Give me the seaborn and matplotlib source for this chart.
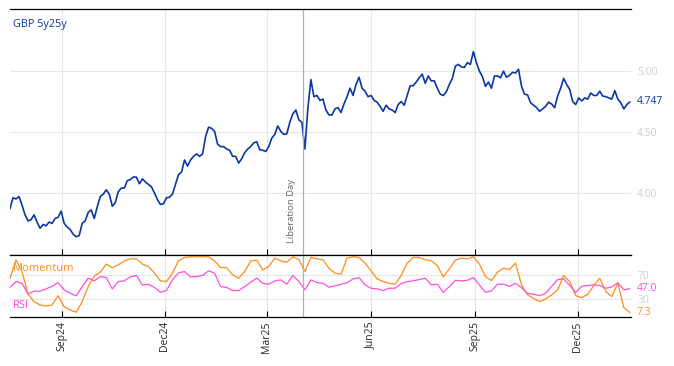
import pandas as pd
import seaborn as sns
import matplotlib.pyplot as plt
import matplotlib.dates as mdates

# GBP 5y25y (one value about every 2-3 days)
rate = [3.87, 3.96, 3.95, 3.97, 3.90, 3.82, 3.77, 3.78, 3.82, 3.76,
        3.71, 3.74, 3.73, 3.76, 3.75, 3.79, 3.80, 3.85, 3.75, 3.72,
        3.70, 3.66, 3.64, 3.65, 3.75, 3.77, 3.84, 3.86, 3.79, 3.885,
        3.97, 3.99, 4.025, 3.99, 3.89, 3.92, 4.01, 4.04, 4.04, 4.10,
        4.11, 4.13, 4.13, 4.075, 4.115, 4.09, 4.07, 4.05, 4.00, 3.945,
        3.905, 3.91, 3.96,
        3.964, 3.99, 4.07, 4.15, 4.17, 4.27, 4.22, 4.27, 4.30, 4.32,
        4.30, 4.32, 4.46, 4.54, 4.53, 4.505, 4.40, 4.38, 4.38, 4.36,
        4.35, 4.30, 4.30, 4.245, 4.28, 4.33, 4.36, 4.38, 4.41, 4.42,
        4.355, 4.35, 4.34, 4.38, 4.45, 4.48, 4.55, 4.505, 4.48, 4.485,
        4.58, 4.65, 4.68, 4.60, 4.58, 4.36,
        4.695, 4.93, 4.79, 4.80, 4.76, 4.77, 4.68, 4.64, 4.64, 4.69,
        4.70, 4.66, 4.73, 4.79, 4.86, 4.80, 4.89, 4.95, 4.86, 4.835,
        4.79, 4.80, 4.76, 4.745, 4.71, 4.67, 4.72, 4.69, 4.68, 4.66,
        4.725, 4.75, 4.72, 4.80, 4.88, 4.88, 4.91, 4.945, 4.975, 4.90,
        4.96, 4.92, 4.92, 4.86, 4.81, 4.80, 4.83, 4.89, 4.94, 5.04,
        5.055, 5.035, 5.03, 5.07,
        5.055, 5.16, 5.07, 5.00, 4.955, 4.875, 4.91, 4.86, 4.96, 4.96,
        4.945, 5.00, 4.95, 4.965, 4.99, 4.985, 5.015, 4.875, 4.81, 4.805,
        4.74, 4.72, 4.70, 4.67, 4.69, 4.71, 4.745, 4.73, 4.70, 4.795,
        4.86, 4.94, 4.89, 4.85, 4.75, 4.725, 4.78, 4.755, 4.78, 4.77,
        4.82, 4.80, 4.80, 4.835, 4.795, 4.79, 4.78, 4.77, 4.84, 4.77,
        4.74, 4.69, 4.725, 4.747]

# oscillators, one value about every 5 days
momentum = [64, 95, 75.5, 38, 25.5, 20, 18.3, 20, 35.5, 17,
            11.7, 7.8, 25.5, 50.5, 68, 74.5, 88, 82, 86.7, 93,
            96.7, 96.7, 88, 84, 73, 60, 59,
            72.8, 93.3, 98.9, 100, 100, 100, 100, 93, 82, 82,
            70, 64.5, 75.5, 93, 94.5, 78, 84, 98, 93, 91,
            100, 95.5, 75.5, 99, 96.7, 95,
            81, 72.8, 71, 97.8, 100, 98.9, 89.5, 76.7, 63.3, 59,
            56, 54.5, 69, 89.5, 98.9, 98.9, 95, 93.3, 85.5, 66.7,
            80, 94.5, 97.8, 96.7, 100, 87.8,
            67.2, 60.5, 74.4, 81, 79, 89.5, 53.3, 36.7, 31, 25.5,
            30, 36.7, 45, 69, 59, 35.5, 32.2, 37.8, 52.2, 64.5,
            42.2, 34, 56, 15.6, 7.3]
rsi = [49, 59, 56, 38, 43, 43, 46.7, 51, 57, 45,
       39.5, 35, 50.5, 64.5, 60, 67, 65.5, 46.7, 59, 60,
       66.7, 69, 53, 54.5, 49, 41, 44,
       61.7, 73.3, 75.5, 66.7, 67.2, 69, 76.7, 72.8, 50.5, 49,
       44, 44, 50.5, 57.8, 64.5, 56, 54.5, 60, 61.7, 54.5,
       69, 59, 45, 61.7, 57.2, 56,
       49.4, 51.7, 54.5, 56.7, 63.3, 65.5, 53.3, 47.8, 46.7, 44,
       47.8, 47.8, 55.5, 58.9, 60, 62.2, 64.5, 53.3, 54.5, 41,
       50.5, 61, 60, 61, 65.5, 53.3,
       41, 43.3, 54.5, 54.5, 51, 56, 48.9, 38.9, 37.8, 35.5,
       39.5, 51, 62.2, 63.3, 52.2, 41, 51, 52.2, 53.3, 52.2,
       47.8, 50, 56.7, 45, 47.0]

top_ticks = [4.0, 4.5, 5.0]
osc_ticks = [30, 70]
lib_day = pd.Timestamp('2025-04-02')

start, end = pd.Timestamp('2024-07-17'), pd.Timestamp('2026-01-16')
rate_dates = pd.date_range(start, end, periods=len(rate))
osc_dates = pd.date_range(start, end, periods=len(momentum))

blue = '#0a37a3'
orange = '#ff8c1a'
pink = '#ff4fdc'
grid = '#e6e6e6'
light = '#cfcfcf'

sns.set_style('white')
plt.rcParams['font.family'] = ['Open Sans', 'DejaVu Sans']

fig = plt.figure(figsize=(6.74, 3.66), dpi=100)
ax1 = fig.add_axes([0.0148, 0.3033, 0.9214, 0.6721])
ax2 = fig.add_axes([0.0148, 0.1339, 0.9214, 0.1694], sharex=ax1)

sns.lineplot(x=rate_dates, y=rate, ax=ax1, color=blue, lw=1.2)
sns.lineplot(x=osc_dates, y=momentum, ax=ax2, color=orange, lw=0.9)
sns.lineplot(x=osc_dates, y=rsi, ax=ax2, color=pink, lw=0.9)

ax1.set_xlim(start, pd.Timestamp('2026-01-17'))
ax1.set_ylim(3.49, 5.51)
ax2.set_ylim(0, 103)
ax1.set_yticks(top_ticks)
ax1.set_yticklabels([f'{t:.2f}' for t in top_ticks])
ax2.set_yticks(osc_ticks)

ax1.xaxis.set_major_locator(mdates.MonthLocator(bymonth=[3, 6, 9, 12]))
ax1.xaxis.set_major_formatter(mdates.DateFormatter('%b%y'))

for ax in (ax1, ax2):
    ax.grid(True, color=grid, lw=0.8)
    ax.set_axisbelow(True)
    ax.yaxis.tick_right()
    ax.tick_params(axis='y', length=0, pad=4.5, labelsize=7.5, labelcolor=light)
    ax.tick_params(axis='x', direction='in', length=4.5, width=0.8, color='black',
                   bottom=True, labelsize=7.5)
    for side in ('left', 'right'):
        ax.spines[side].set_visible(False)
    for side in ('top', 'bottom'):
        ax.spines[side].set_color('black')
        ax.spines[side].set_linewidth(0.9)
    ax.axvline(lib_day, color='#b0b0b0', lw=0.9)
    ax.set_xlabel('')
    ax.set_ylabel('')

ax1.tick_params(axis='x', labelbottom=False)
ax2.tick_params(axis='x', rotation=90, pad=3)

ax1.text(0.005, 0.935, 'GBP 5y25y', transform=ax1.transAxes, color=blue,
         fontsize=7.8, va='center', ha='left')
ax1.annotate('Liberation Day', xy=(lib_day, 3.59), xytext=(-5, 0),
             textcoords='offset points', rotation=90, ha='right', va='bottom',
             fontsize=6.8, color='#666666')

ax2.text(0.004, 0.79, 'Momentum', transform=ax2.transAxes, color=orange,
         fontsize=8, va='center', ha='left')
ax2.text(0.004, 0.18, 'RSI', transform=ax2.transAxes, color=pink,
         fontsize=8, va='center', ha='left')

# last values on the right
ax1.text(1.0097, rate[-1], f'{rate[-1]:.3f}', transform=ax1.get_yaxis_transform(),
         color=blue, fontsize=7.5, va='center')
ax2.text(1.0097, rsi[-1], f'{rsi[-1]:.1f}', transform=ax2.get_yaxis_transform(),
         color=pink, fontsize=7.5, va='center')
ax2.text(1.0097, momentum[-1], f'{momentum[-1]:.1f}', transform=ax2.get_yaxis_transform(),
         color=orange, fontsize=7.5, va='center')

fig.savefig('out.png', dpi=100)
